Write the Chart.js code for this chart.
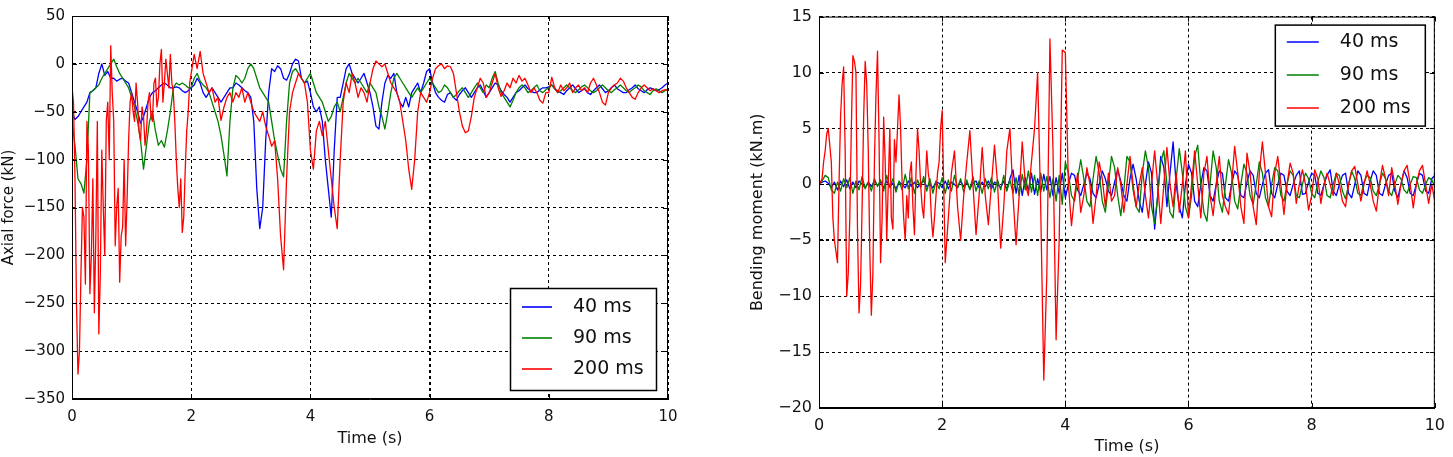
<!DOCTYPE html>
<html>
<head>
<meta charset="utf-8">
<script src="https://cdn.jsdelivr.net/npm/chart.js@4.4.0/dist/chart.umd.min.js"></script>
<style>
html, body { margin: 0; padding: 0; background: #fff; }
body { width: 1453px; height: 457px; position: relative; overflow: hidden; }
.box { position: absolute; top: 0; height: 457px; }
#leftBox { left: 0; width: 690px; }
#rightBox { left: 740px; width: 713px; }
</style>
</head>
<body>
<div class="box" id="leftBox"><canvas id="axialChart"></canvas></div>
<div class="box" id="rightBox"><canvas id="momentChart"></canvas></div>
<script>
// 時間軸 (s) — 0.05 s 刻み
const timeSec = [
  0, 0.05, 0.1, 0.15, 0.2, 0.25, 0.3, 0.35, 0.4, 0.45, 0.5, 0.55, 0.6, 0.65, 0.7, 0.75, 0.8, 0.85, 0.9, 0.95,
  1, 1.05, 1.1, 1.15, 1.2, 1.25, 1.3, 1.35, 1.4, 1.45, 1.5, 1.55, 1.6, 1.65, 1.7, 1.75, 1.8, 1.85, 1.9, 1.95,
  2, 2.05, 2.1, 2.15, 2.2, 2.25, 2.3, 2.35, 2.4, 2.45, 2.5, 2.55, 2.6, 2.65, 2.7, 2.75, 2.8, 2.85, 2.9, 2.95,
  3, 3.05, 3.1, 3.15, 3.2, 3.25, 3.3, 3.35, 3.4, 3.45, 3.5, 3.55, 3.6, 3.65, 3.7, 3.75, 3.8, 3.85, 3.9, 3.95,
  4, 4.05, 4.1, 4.15, 4.2, 4.25, 4.3, 4.35, 4.4, 4.45, 4.5, 4.55, 4.6, 4.65, 4.7, 4.75, 4.8, 4.85, 4.9, 4.95,
  5, 5.05, 5.1, 5.15, 5.2, 5.25, 5.3, 5.35, 5.4, 5.45, 5.5, 5.55, 5.6, 5.65, 5.7, 5.75, 5.8, 5.85, 5.9, 5.95,
  6, 6.05, 6.1, 6.15, 6.2, 6.25, 6.3, 6.35, 6.4, 6.45, 6.5, 6.55, 6.6, 6.65, 6.7, 6.75, 6.8, 6.85, 6.9, 6.95,
  7, 7.05, 7.1, 7.15, 7.2, 7.25, 7.3, 7.35, 7.4, 7.45, 7.5, 7.55, 7.6, 7.65, 7.7, 7.75, 7.8, 7.85, 7.9, 7.95,
  8, 8.05, 8.1, 8.15, 8.2, 8.25, 8.3, 8.35, 8.4, 8.45, 8.5, 8.55, 8.6, 8.65, 8.7, 8.75, 8.8, 8.85, 8.9, 8.95,
  9, 9.05, 9.1, 9.15, 9.2, 9.25, 9.3, 9.35, 9.4, 9.45, 9.5, 9.55, 9.6, 9.65, 9.7, 9.75, 9.8, 9.85, 9.9, 9.95,
  10
];
// 中間時刻 (s) — 激しく振動する区間の追加読み取り用
const midSec = [
  0.025, 0.075, 0.125, 0.175, 0.225, 0.275, 0.325, 0.375, 0.425, 0.475, 0.525, 0.575, 0.625, 0.675, 0.725, 0.775, 0.825, 0.875, 0.925, 0.975,
  1.025, 1.075, 1.125, 1.175, 1.225, 1.275, 1.325, 1.375, 1.425, 1.475, 1.525, 1.575, 1.625, 1.675, 1.725, 1.775, 1.825, 1.875, 1.925, 1.975
];

const seriesLabels = ['40 ms', '90 ms', '200 ms'];
const seriesColors = ['#0000ff', '#008000', '#ff0000'];

// 軸力 (kN)
const axial40 = [
  -50, -58, -55, -50, -45, -40, -30, -28, -25, -10, 0, -12, -8, -15, -15, -18, -16, -15, -18, -20,
  -30, -40, -50, -62, -55, -45, -35, -30, -28, -25, -22, -20, -22, -25, -25, -24, -25, -28, -30, -28,
  -25, -22, -15, -20, -30, -35, -30, -25, -30, -35, -40, -35, -30, -25, -25, -20, -22, -25, -28, -30,
  -35, -60, -130, -172, -150, -80, -30, -5, -8, -2, -5, -15, -17, -10, 0, 5, 3, -15, -20, -18,
  -30, -45, -50, -45, -60, -100, -130, -160, -90, -35, -35, -20, -5, 0, -10, -15, -20, -15, -10, -20,
  -30, -45, -65, -68, -40, -20, -12, -15, -10, -30, -40, -45, -35, -45, -30, -25, -20, -30, -20, -8,
  -5, -20, -30, -35, -38, -40, -32, -30, -35, -38, -32, -28, -25, -30, -35, -30, -25, -22, -28, -35,
  -30, -25, -20, -22, -28, -32, -35, -40, -35, -30, -28, -25, -22, -26, -28, -30, -30, -27, -25, -25,
  -24, -22, -26, -28, -30, -32, -28, -25, -22, -26, -30, -28, -26, -30, -32, -28, -25, -22, -26, -30,
  -28, -25, -22, -26, -28, -30, -30, -27, -25, -22, -26, -28, -30, -27, -25, -26, -28, -27, -25, -22,
  -20
];
const axial90 = [
  -60, -85, -120, -125, -135, -100, -30, -28, -25, -22, -15, -10, -5, 0, 5, -3, -10, -15, -20, -25,
  -35, -45, -60, -80, -110, -85, -60, -50, -70, -85, -80, -87, -70, -50, -25, -20, -22, -20, -22, -25,
  -25, -15, -10, -18, -22, -25, -30, -40, -50, -60, -75, -95, -117, -60, -25, -12, -15, -20, -15, -5,
  0, -5, -15, -25, -30, -35, -40, -60, -80, -95, -110, -118, -60, -20, -8, -5, -10, -15, -20, -15,
  -10, -20, -30, -35, -40, -50, -60, -55, -45, -40, -50, -35, -20, -10, -15, -20, -15, -20, -25, -30,
  -20, -25, -30, -45, -55, -68, -50, -30, -15, -10, -15, -20, -25, -30, -35, -30, -25, -30, -25, -20,
  -15, -20, -25, -30, -28, -22, -25, -30, -35, -32, -28, -25, -30, -35, -30, -25, -20, -25, -30, -22,
  -25, -15, -8, -20, -30, -35, -40, -45, -38, -30, -25, -22, -25, -30, -28, -25, -22, -28, -30, -27,
  -25, -22, -26, -30, -28, -25, -22, -25, -28, -30, -27, -24, -22, -25, -28, -30, -28, -25, -22, -25,
  -28, -30, -27, -25, -22, -25, -28, -30, -27, -25, -22, -24, -28, -30, -32, -28, -26, -28, -30, -28,
  -26
];
const axial200 = [
  -25, -120, -324, -220, -160, -60, -240, -120, -180, -282, -90, -200, -40, 19, -60, -150, -228, -170, -190, -80,
  -30, -60, -40, -80, -55, -70, -30, -60, -15, -35, 15, -20, -10, 10, -30, -100, -150, -176, -110, -50,
  -10, 10, -5, 13, -10, -20, -30, -25, -40, -35, -59, -45, -35, -30, -40, -30, -35, -25, -40, -30,
  -40, -50, -55, -60, -50, -65, -75, -86, -80, -120, -180, -215, -120, -50, -30, -20, -10, -15, -20, -40,
  -90, -110, -70, -60, -75, -60, -90, -120, -150, -172, -100, -40, -20, -30, -10, -20, -35, -25, -30, -40,
  -20, -5, 3, 0, -3, 0, -10, -20, -25, -30, -40, -60, -80, -110, -131, -100, -50, -30, -35, -40,
  -30, -15, -5, -2, 0, -5, -2, -3, -10, -30, -50, -65, -72, -70, -55, -35, -25, -15, -20, -35,
  -30, -20, -10, -25, -34, -28, -20, -25, -15, -20, -12, -18, -15, -22, -30, -25, -30, -38, -41, -30,
  -30, -14, -25, -30, -22, -28, -25, -20, -30, -25, -22, -28, -25, -30, -20, -15, -22, -30, -40, -43,
  -30, -25, -22, -20, -15, -18, -25, -30, -35, -37, -30, -25, -22, -25, -28, -26, -28, -30, -28, -27,
  -28
];
// 200 ms 軸力の中間時刻の値 (0.025〜1.975 s)
const axial200Mid = [
  -40, -250, -300, -150, -230, -90, -200, -260, -60, -220, -150, -60, -100, -30, -190, -130, -180, -100, -140, -40,
  -50, -20, -70, -45, -85, -40, -55, -20, -45, 0, -40, 5, -25, -20, -60, -130, -120, -160, -70, -20
];

// 曲げモーメント (kN.m)
const moment40 = [
  0, 0.2, 0.3, 0.1, -0.3, 0.2, -0.5, 0.3, -0.2, 0.4, -0.4, 0.2, -0.3, 0.3, 0, -0.3, 0.2, -0.2, 0.3, -0.1,
  0.2, -0.3, 0.3, -0.2, 0.1, -0.4, 0.2, 0, -0.3, 0.3, -0.2, 0.2, -0.3, 0.1, 0.3, -0.2, 0, -0.3, 0.2, 0.1,
  -0.3, 0.3, -0.4, 0.2, 0, -0.3, 0.3, -0.2, 0.2, -0.4, 0.1, 0.3, -0.3, 0.2, -0.2, 0.3, -0.4, 0.2, 0, -0.3,
  0.3, -0.5, 0.5, 1.3, -0.8, 0.8, -1, 0.6, -0.6, 1, -0.9, 0.5, -0.7, 0.9, -0.5, 0.7, -1, 0.6, -0.8, 1,
  -1.2, 0, 1, 0.8, -0.5, -1, 0, 1, 0.5, -0.8, -1.2, 0, 1.2, 0.5, -0.6, -1, 0.2, 1.3, 0.3, -1,
  -1.5, 0.5, 1.8, 0.5, -1.5, -2.5, 0, 2, 1, -4, -1, 2.5, 1.5, -2, 1, 3.8, 0, -2, -3, 0,
  1.8, 1, -1.5, -2, 0, 1.5, 1.2, -1, -1.5, 0, 1.2, 1, -1.2, -1.5, 0, 1.2, 0.8, -1, -1.2, 0.2,
  1.2, 0.8, -0.8, -1.2, 0, 1, 1.3, -0.8, -1.2, 0, 1, 0.8, -0.6, -1, 0, 0.8, 1.2, -0.9, -0.8, 0.2,
  1, 0.8, -0.8, -1, 0, 0.8, 1.3, -0.6, -1, 0, 0.8, 1, -0.8, -1.2, 0, 1.2, 0.8, -0.8, -1, 0.3,
  1.2, 0.8, -0.8, -1, 0, 0.8, 1, -0.6, -1.2, 0, 1.2, 0.6, -0.8, -1, 0, 1, 0.8, -0.6, -0.8, 0.5,
  0.8
];
const moment90 = [
  0, 0.3, 0.8, 0.6, -0.5, -0.8, 0.2, -0.6, 0.5, -0.3, 0.6, -0.8, 0.3, -0.5, 0.7, -0.4, 0.2, -0.6, 0.5, -0.2,
  0.4, -0.6, 0.8, -0.3, 0.5, -0.7, 0.3, -0.5, 0.9, -0.4, 0.6, -0.8, 0.4, -0.3, 0.7, -0.6, 0.5, -0.8, 0.3, -0.4,
  0.6, -0.8, 0.4, -0.6, 0.8, -0.3, 0.5, -0.7, 0.4, -0.5, 0.7, -0.6, 0.3, -0.8, 0.5, -0.4, 0.6, -0.7, 0.4, -0.5,
  0.8, -0.6, 0.4, -0.8, 0.6, -1, 0.9, -0.5, 1.2, -0.7, 0.8, -1, 1, -0.6, 0.7, -1.2, 0.5, -1.5, 0.8, -1.8,
  2, 1, -1, -1.5, 0.5, 2.2, 0.5, -1.5, -2, 0.5, 2.5, 1, -1.5, -2.5, 0, 2.5, 1.5, -1, -2.8, -0.5,
  2.5, 2, -0.5, -2, -2.5, 1, 3, 1.5, -2, -3.5, -1, 2, 3, 0, -2.5, -3, 0.5, 3.2, 1, -2,
  -3, -1, 2.5, 3.5, 0, -2.5, -3.3, 0, 3, 1.5, -1.5, -2.5, 0, 2.2, 1, -1.5, -2.2, 0, 1.8, 1,
  -1, -1.8, 0, 2, 1, -1.2, -2, 0, 1.5, 1.2, -1, -1.5, 0, 1.2, 0.8, -1, -1.2, 0, 1, 0.5,
  -0.8, -1.2, 0.2, 1.2, 0.6, -1, -1.2, 0, 1, 0.8, -0.6, -1.3, 0, 1.2, 0.5, -0.8, -1, 0.2, 0.8, 0.6,
  -0.6, -1, 0, 1, 0.5, -0.6, -1, 0, 0.8, 0.5, -0.5, -0.8, 0, 0.7, 0.6, -0.5, -0.8, 0, 0.6, 0.4,
  -0.2
];
const moment200 = [
  0, 0.5, 3, 5, 2, -5, -7, 6, 10.5, -10, -3, 11.5, 10, -11.5, -2, 11, 3, -11.7, 2, 11.9,
  -7, 6, -5, 5, -4, 2, 8, 0, -5, -3, 2, -4.5, 5, 0, -3, 3, 0, -4.7, -1, 2,
  6.6, -7, -3, 1, 3, -2, -5, -1, 2, 4.8, 0, -4.5, -1, 3.3, -1, -3.6, 0, 3.5, 0, -5.7,
  -2, 3, 5, -1, -5.4, -1, 3.8, 0, -1, 2, 5, 10, -2, -17.5, -8, 13, 3, -13.9, -5, 12,
  11.8, 0, -3.7, -1, 1, -2.5, -1, 1.5, 0, -3.5, -1, 2, 0.5, -2, 1, -1.5, -1, 1.5, 0, -2.5,
  0, 2.5, 0, -2, 0, 1.5, -1, -3, 0, 3, 0, -3.5, 0, 3.3, 0, -2, 1, -2.5, 0, 3,
  -3, 0, 3, 0, -3, 1, 2.5, -1, -2.8, 0, 2.5, -1, -2, -2.7, 0, 3.4, 1, -2, -3.5, 2.8,
  1, -2, -3.6, 1, 3.8, 1, -2, -2.9, 1, 2.5, 0, -2.7, 0, 1.9, 1, -1.7, 0, 1.3, 0, -2.3,
  -1, 1.3, 0.5, -1.7, 0, 1, 0, -1, 1, 0, -1.5, -2, 0, 1.2, 1.6, 0, -1.5, 0, 1.2, 0,
  -1.5, -2.4, 0, 1.7, 0.5, -1, 1.5, 0, -1.8, 0, 1.2, 1.7, 0, -2.1, 0, 1.2, 1.7, 0, -1.7, 0,
  -1.5
];
// 200 ms 曲げモーメントの中間時刻の値 (0.025〜1.975 s)
const moment200Mid = [
  0.2, 2, 4.5, 3.5, -3, -6, 0, 9, 3, -8, 5, 11, -4, -9, 6, 9, -6, -8, 8, 4,
  -3, 2, 0, -3, 4, 5, 5, -3, -1, 1, -2, 1, 3, -2, 0, 1, -3, -3, 1, 5
];

const axialTicks = { min: -350, max: 50, step: 50 };
const momentTicks = { min: -20, max: 15, step: 5 };
const timeTicks = { min: 0, max: 10, step: 2 };

const FONT = 'DejaVu Sans';

// 数値を matplotlib 風のマイナス記号に
function minusLabel(v) {
  return String(v).replace('-', '\u2212');
}

// 基本時刻の値と中間時刻の値を時刻順に並べる
function toPoints(values, midValues) {
  const pts = timeSec.map((t, i) => ({ x: t, y: values[i] }));
  if (midValues) {
    midValues.forEach((v, i) => pts.push({ x: midSec[i], y: v }));
    pts.sort((a, b) => a.x - b.x);
  }
  return pts;
}

// 枠線と内向きの目盛り
const framePlugin = {
  id: 'frame',
  afterDraw(chart) {
    const { ctx, chartArea: a, scales } = chart;
    ctx.save();
    ctx.strokeStyle = '#000';
    ctx.lineWidth = 1;
    ctx.setLineDash([]);
    ctx.strokeRect(a.left + 0.5, a.top + 0.5, a.right - a.left - 1, a.bottom - a.top - 1);
    ctx.beginPath();
    scales.x.ticks.forEach(t => {
      const px = Math.round(scales.x.getPixelForValue(t.value)) + 0.5;
      ctx.moveTo(px, a.bottom); ctx.lineTo(px, a.bottom - 5);
      ctx.moveTo(px, a.top); ctx.lineTo(px, a.top + 5);
    });
    scales.y.ticks.forEach(t => {
      const py = Math.round(scales.y.getPixelForValue(t.value)) + 0.5;
      ctx.moveTo(a.left, py); ctx.lineTo(a.left + 5, py);
      ctx.moveTo(a.right, py); ctx.lineTo(a.right - 5, py);
    });
    ctx.stroke();
    ctx.restore();
  }
};

// グラフ内の枠付き凡例
const boxLegendPlugin = {
  id: 'boxLegend',
  afterDraw(chart, args, opts) {
    const { ctx, chartArea: a } = chart;
    const x = a.right - opts.gapX - opts.width;
    const y = opts.top ? a.top + opts.gapY : a.bottom - opts.gapY - opts.height;
    ctx.save();
    ctx.setLineDash([]);
    ctx.fillStyle = '#fff';
    ctx.fillRect(x, y, opts.width, opts.height);
    ctx.strokeStyle = '#000';
    ctx.lineWidth = 1.5;
    ctx.strokeRect(x + 0.5, y + 0.5, opts.width, opts.height);
    ctx.font = opts.fontSize + 'px "' + FONT + '"';
    ctx.textBaseline = 'middle';
    ctx.textAlign = 'left';
    chart.data.datasets.forEach((ds, i) => {
      const cy = Math.round(y + opts.firstRow + i * opts.rowGap);
      ctx.strokeStyle = ds.borderColor;
      ctx.lineWidth = 1.6;
      ctx.beginPath();
      ctx.moveTo(x + 12, cy);
      ctx.lineTo(x + 12 + opts.lineLen, cy);
      ctx.stroke();
      ctx.fillStyle = '#111';
      ctx.fillText(ds.label, x + opts.textX, cy);
    });
    ctx.restore();
  }
};

function makeDatasets(list, mids) {
  return list.map((values, i) => ({
    label: seriesLabels[i],
    data: toPoints(values, mids[i]),
    borderColor: seriesColors[i],
    backgroundColor: seriesColors[i],
    borderWidth: 1.3,
    borderJoinStyle: 'round',
    pointRadius: 0,
    tension: 0,
    fill: false,
    order: 3 - i
  }));
}

function makeChart(canvasId, cfg) {
  return new Chart(document.getElementById(canvasId), {
    type: 'line',
    data: { datasets: makeDatasets(cfg.series, cfg.mids) },
    options: {
      responsive: true,
      maintainAspectRatio: false,
      animation: false,
      events: [],
      layout: { padding: cfg.padding },
      plugins: {
        legend: { display: false },
        tooltip: { enabled: false },
        boxLegend: cfg.legend
      },
      scales: {
        x: {
          type: 'linear',
          min: timeTicks.min,
          max: timeTicks.max,
          afterFit: s => { s.height = cfg.xHeight; },
          ticks: {
            stepSize: timeTicks.step,
            autoSkip: false,
            maxRotation: 0,
            padding: cfg.xTickPad,
            color: '#111',
            font: { family: FONT, size: cfg.tickSize }
          },
          grid: {
            color: '#000',
            drawTicks: false,
            lineWidth: c => (c.tick && c.tick.value === cfg.thickX) ? 2 : 1
          },
          border: { display: true, color: '#000', width: 1, dash: [3, 3] },
          title: {
            display: true,
            text: 'Time (s)',
            color: '#111',
            padding: { top: 0, bottom: cfg.xTitlePad },
            font: { family: FONT, size: 16 }
          }
        },
        y: {
          min: cfg.yTicks.min,
          max: cfg.yTicks.max,
          afterFit: s => { s.width = cfg.yWidth; },
          ticks: {
            stepSize: cfg.yTicks.step,
            autoSkip: false,
            padding: 7,
            color: '#111',
            font: { family: FONT, size: cfg.tickSize },
            callback: v => minusLabel(v)
          },
          grid: {
            color: '#000',
            drawTicks: false,
            lineWidth: c => (c.tick && c.tick.value === cfg.thickY) ? 2 : 1
          },
          border: { display: true, color: '#000', width: 1, dash: [3, 3] },
          title: {
            display: true,
            text: cfg.yTitle,
            color: '#111',
            padding: { top: cfg.yTitlePad, bottom: 0 },
            font: { family: FONT, size: cfg.yTitleSize }
          }
        }
      }
    },
    plugins: [framePlugin, boxLegendPlugin]
  });
}

makeChart('axialChart', {
  series: [axial40, axial90, axial200],
  mids: [null, null, axial200Mid],
  yTicks: axialTicks,
  yTitle: 'Axial force (kN)',
  yTitleSize: 15,
  yTitlePad: 0,
  tickSize: 15,
  padding: { left: 0, right: 22, top: 12, bottom: 5 },
  yWidth: 72,
  xHeight: 53,
  xTickPad: 9,
  xTitlePad: 4,
  thickX: 6,
  thickY: null,
  legend: { top: false, gapX: 12, gapY: 9, width: 146, height: 102, firstRow: 19, rowGap: 31, lineLen: 30, textX: 63, fontSize: 19 }
});

makeChart('momentChart', {
  series: [moment40, moment90, moment200],
  mids: [null, null, moment200Mid],
  yTicks: momentTicks,
  yTitle: 'Bending moment (kN.m)',
  yTitleSize: 16,
  yTitlePad: 4,
  tickSize: 16,
  padding: { left: 4, right: 17, top: 15, bottom: 0 },
  yWidth: 75,
  xHeight: 49,
  xTickPad: 8,
  xTitlePad: 1,
  thickX: null,
  thickY: -5,
  legend: { top: true, gapX: 10, gapY: 8, width: 150, height: 101, firstRow: 17, rowGap: 33, lineLen: 32, textX: 65, fontSize: 19 }
});
</script>
</body>
</html>
